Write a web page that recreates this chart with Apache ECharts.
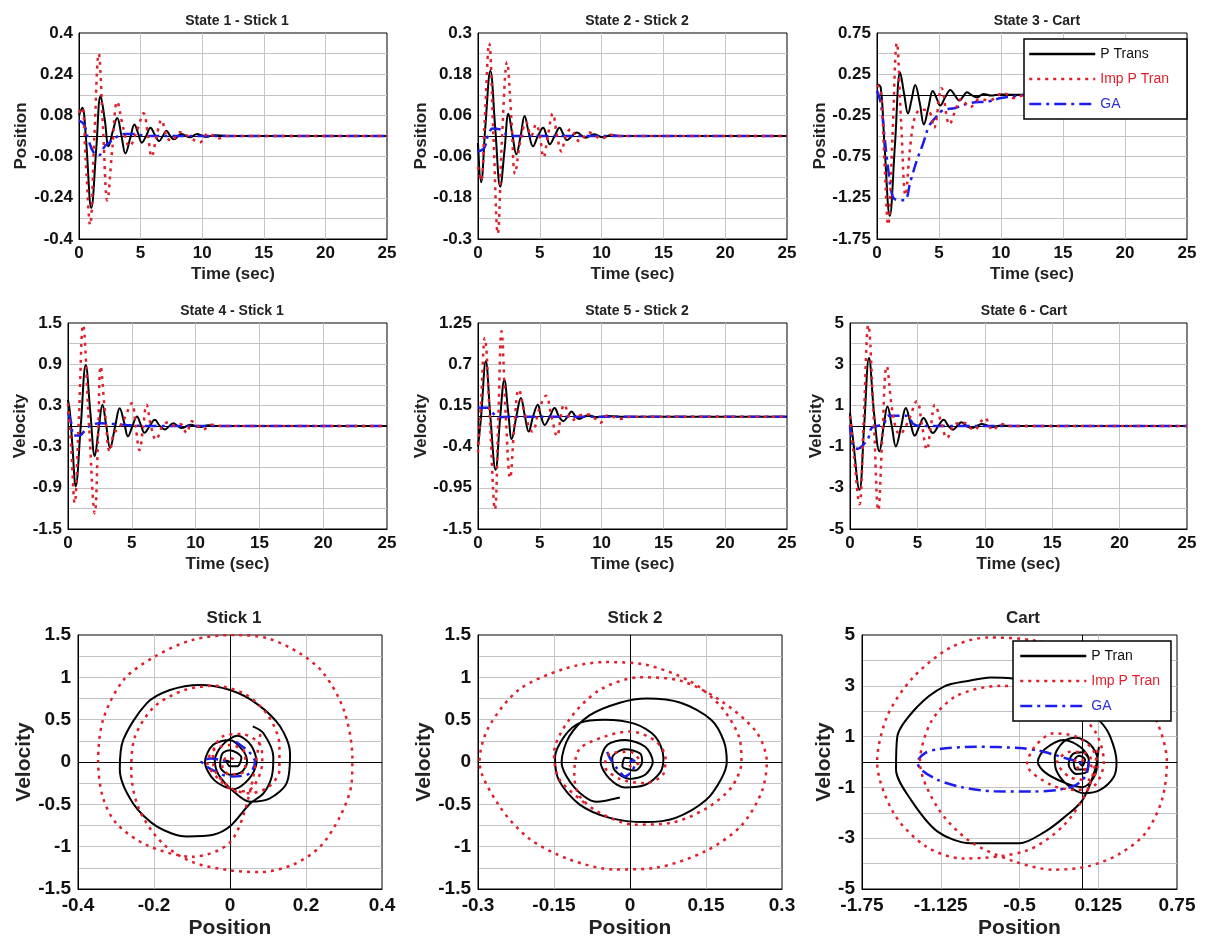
<!DOCTYPE html>
<html>
<head>
<meta charset="utf-8">
<script src="https://cdn.jsdelivr.net/npm/echarts@6.0.0/dist/echarts.min.js"></script>
<style>
  html, body { margin: 0; padding: 0; background: #fff; }
  #chart { width: 1205px; height: 944px; }
</style>
</head>
<body>
<div id="chart"></div>
<script>
// ---- tick values / labels ----
var timeGrid = [5, 10, 15, 20];
var timeLabels = [0, 5, 10, 15, 20, 25];
var y1Grid = [-0.32, -0.24, -0.16, -0.08, 0, 0.08, 0.16, 0.24, 0.32];
var y1Labels = [-0.4, -0.24, -0.08, 0.08, 0.24, 0.4];
var y2Grid = [-0.24, -0.18, -0.12, -0.06, 0, 0.06, 0.12, 0.18, 0.24];
var y2Labels = [-0.3, -0.18, -0.06, 0.06, 0.18, 0.3];
var y3Grid = [-1.5, -1.25, -1, -0.75, -0.5, -0.25, 0, 0.25, 0.5];
var y3Labels = [-1.75, -1.25, -0.75, -0.25, 0.25, 0.75];
var y4Grid = [-1.2, -0.9, -0.6, -0.3, 0, 0.3, 0.6, 0.9, 1.2];
var y4Labels = [-1.5, -0.9, -0.3, 0.3, 0.9, 1.5];
var y5Grid = [-1.225, -0.95, -0.675, -0.4, -0.125, 0.15, 0.425, 0.7, 0.975];
var y5Labels = [-1.5, -0.95, -0.4, 0.15, 0.7, 1.25];
var y6Grid = [-4, -3, -2, -1, 0, 1, 2, 3, 4];
var y6Labels = [-5, -3, -1, 1, 3, 5];
var phYGrid = [-1.25, -1, -0.75, -0.5, -0.25, 0, 0.25, 0.5, 0.75, 1, 1.25];
var phYLabels = [-1.5, -1, -0.5, 0, 0.5, 1, 1.5];
var x7Grid = [-0.2, 0, 0.2];
var x7Labels = [-0.4, -0.2, 0, 0.2, 0.4];
var x8Grid = [-0.15, 0, 0.15];
var x8Labels = [-0.3, -0.15, 0, 0.15, 0.3];
var x9Grid = [-1.125, -0.5, 0.125];
var x9Labels = [-1.75, -1.125, -0.5, 0.125, 0.75];

// ---- state 1 (stick 1 position) : [time, value] ----
var s1Trans = [[0,0.08],[0.27,0.11],[0.55,0.0],[1.0,-0.28],[1.4,-0.05],[1.75,0.155],[2.1,0.06],[2.4,-0.04],[2.75,0.02],[3.1,0.07],[3.45,0.0],[3.77,-0.068],[4.15,-0.01],[4.5,0.045],[4.8,0.01],[5.1,-0.026],[5.45,0.0],[5.8,0.032],[6.15,0.005],[6.5,-0.02],[6.8,0.0],[7.1,0.02],[7.4,0.0],[7.7,-0.013],[8.3,0.008],[9.0,-0.005],[9.6,0.008],[10.3,-0.004],[11,0.003],[12,0],[25,0]];
var s1Imp = [[0,0.09],[0.25,0.11],[0.55,-0.1],[0.9,-0.345],[1.25,0.0],[1.6,0.32],[1.95,0.03],[2.3,-0.25],[2.7,-0.05],[3.1,0.133],[3.6,0.03],[4.1,-0.04],[4.7,0.02],[5.25,0.088],[5.6,0.0],[5.9,-0.08],[6.3,0.0],[6.7,0.062],[7.1,0.0],[7.5,-0.02],[8.2,0.015],[9.0,-0.005],[9.8,-0.025],[10.5,0.01],[11.3,-0.01],[12,0],[25,0]];
var s1GA = [[0,0.06],[0.4,0.045],[0.8,-0.02],[1.2,-0.065],[1.6,-0.075],[2.1,-0.04],[2.6,-0.02],[3.2,0.0],[3.7,0.008],[4.5,0.008],[5.5,0.0],[25,0]];

// ---- state 2 (stick 2 position) ----
var s2Trans = [[0,-0.02],[0.25,-0.135],[0.6,0.03],[1.0,0.19],[1.4,0.02],[1.8,-0.148],[2.15,-0.04],[2.46,0.065],[2.8,0.0],[3.1,-0.053],[3.45,0.0],[3.77,0.058],[4.1,0.01],[4.45,-0.03],[4.85,0.0],[5.27,0.024],[5.55,0.0],[5.8,-0.024],[6.2,0.0],[6.6,0.024],[6.9,0.005],[7.2,-0.012],[7.6,0.0],[8.0,0.01],[8.7,-0.005],[9.4,0.005],[10.1,-0.004],[10.8,0.003],[11.5,0],[25,0]];
var s2Imp = [[0,-0.09],[0.25,-0.13],[0.55,0.05],[0.9,0.27],[1.25,0.0],[1.6,-0.285],[1.95,0.0],[2.35,0.215],[2.7,0.05],[3.0,-0.11],[3.4,-0.02],[3.9,0.04],[4.3,0.0],[4.7,0.034],[5.0,0.0],[5.3,-0.062],[5.65,0.0],[6.05,0.065],[6.4,0.0],[6.75,-0.045],[7.1,0.0],[7.5,0.02],[8.2,-0.015],[9.0,0.01],[10,-0.008],[10.7,0.004],[11.5,0],[25,0]];
var s2GA = [[0,-0.045],[0.5,-0.035],[0.8,0.0],[1.2,0.022],[1.7,0.02],[2.1,0.01],[2.6,0.0],[25,0]];

// ---- state 3 (cart position) ----
var s3Trans = [[0,0.13],[0.3,0.09],[0.6,-0.6],[1.03,-1.47],[1.45,-0.6],[1.87,0.27],[2.2,0.0],[2.5,-0.225],[2.8,-0.05],[3.08,0.12],[3.45,-0.1],[3.78,-0.36],[4.15,-0.15],[4.5,0.045],[4.8,-0.04],[5.1,-0.13],[5.5,-0.03],[5.92,0.058],[6.25,0.0],[6.65,-0.07],[6.95,-0.02],[7.25,0.03],[7.6,0.0],[8.05,-0.03],[8.6,0.01],[9.2,-0.01],[9.9,0.005],[11,0],[25,0]];
var s3Imp = [[0,0.12],[0.3,0.05],[0.6,-0.8],[0.9,-1.58],[1.25,-0.5],[1.6,0.63],[1.95,-0.35],[2.3,-1.22],[2.7,-0.6],[3.1,-0.25],[3.6,-0.18],[4.2,-0.2],[4.6,-0.4],[5.2,0.08],[5.85,-0.36],[6.3,-0.2],[6.8,-0.05],[7.5,-0.15],[8.3,-0.05],[9.0,-0.07],[10.2,0.02],[11.0,-0.04],[12,0],[25,0]];
var s3GA = [[0,0.05],[0.3,-0.1],[0.6,-0.5],[0.9,-0.9],[1.2,-1.2],[1.5,-1.27],[2.2,-1.28],[2.7,-1.05],[3.2,-0.8],[3.7,-0.6],[4.2,-0.38],[4.7,-0.28],[5.3,-0.19],[6.3,-0.16],[7.5,-0.1],[9,-0.08],[10,-0.04],[11,-0.02],[12,0],[25,0]];

// ---- state 4 (stick 1 velocity) ----
var s4Trans = [[0,0.38],[0.15,0.2],[0.35,-0.3],[0.6,-0.88],[1.0,0.0],[1.39,0.89],[1.75,0.2],[2.1,-0.44],[2.4,-0.05],[2.7,0.31],[3.0,0.0],[3.3,-0.32],[3.7,0.0],[4.05,0.26],[4.4,0.05],[4.7,-0.15],[5.05,0.0],[5.4,0.14],[5.7,0.02],[6.0,-0.1],[6.4,0.0],[6.8,0.09],[7.2,0.0],[7.6,-0.05],[7.95,0.0],[8.25,0.04],[8.6,0.0],[8.9,-0.03],[9.6,0.02],[10.3,-0.015],[11,0.01],[11.8,0],[25,0]];
var s4Imp = [[0,0.33],[0.25,-0.3],[0.52,-1.12],[0.85,0.1],[1.18,1.47],[1.65,0.0],[2.1,-1.27],[2.35,-0.2],[2.56,0.87],[2.9,0.2],[3.27,-0.37],[3.6,-0.1],[3.9,-0.05],[4.4,0.1],[5.0,0.33],[5.3,0.0],[5.6,-0.35],[5.9,0.0],[6.15,0.31],[6.5,0.0],[6.9,-0.2],[7.4,0.0],[7.8,0.05],[8.4,0.0],[8.8,0.03],[9.3,-0.1],[9.7,0.07],[10.2,0.0],[10.6,-0.05],[11.3,0.02],[12,0],[25,0]];
var s4GA = [[0,0.2],[0.25,0.05],[0.45,-0.14],[0.9,-0.14],[1.3,-0.07],[1.7,0.0],[2.5,0.04],[3.5,0.03],[5,0.01],[6,0],[25,0]];

// ---- state 5 (stick 2 velocity) ----
var s5Trans = [[0,-0.4],[0.25,0.0],[0.63,0.74],[1.0,0.0],[1.42,-0.71],[1.8,0.0],[2.13,0.49],[2.45,0.05],[2.73,-0.3],[3.1,0.0],[3.47,0.25],[3.8,0.0],[4.1,-0.2],[4.45,0.0],[4.84,0.16],[5.1,0.0],[5.4,-0.11],[5.8,0.0],[6.2,0.115],[6.55,0.0],[6.9,-0.06],[7.25,0.0],[7.57,0.07],[7.9,0.0],[8.2,-0.03],[8.9,0.02],[9.6,-0.01],[10.5,0.01],[11.5,0],[25,0]];
var s5Imp = [[0,-0.48],[0.25,0.2],[0.55,1.05],[0.95,0.0],[1.37,-1.24],[1.65,0.0],[1.9,1.14],[2.25,0.0],[2.6,-0.82],[2.95,-0.1],[3.3,0.36],[3.85,0.0],[4.4,-0.2],[4.95,0.1],[5.5,0.28],[5.95,0.0],[6.4,-0.26],[6.7,0.0],[6.97,0.16],[7.6,-0.05],[8.3,0.02],[9.0,0.03],[9.9,-0.08],[10.5,0.02],[11.5,-0.03],[12.5,0],[25,0]];
var s5GA = [[0,0.12],[0.8,0.12],[1.3,0.03],[1.6,-0.01],[2.5,0],[25,0]];

// ---- state 6 (cart velocity) ----
var s6Trans = [[0,0.63],[0.2,-0.5],[0.7,-3.1],[1.05,0.0],[1.41,3.3],[1.8,0.5],[2.18,-1.23],[2.5,0.0],[2.78,0.95],[3.1,0.0],[3.4,-0.99],[3.8,0.0],[4.14,0.87],[4.5,0.1],[4.8,-0.47],[5.15,0.0],[5.46,0.39],[5.8,0.0],[6.15,-0.34],[6.55,0.0],[6.95,0.3],[7.3,0.0],[7.64,-0.18],[7.95,0.0],[8.26,0.18],[8.65,0.0],[9.06,-0.1],[9.4,0.0],[9.8,0.1],[10.5,-0.05],[11.2,0.03],[12,0],[25,0]];
var s6Imp = [[0,0.47],[0.3,-1.5],[0.7,-3.8],[1.0,0.0],[1.36,4.9],[1.75,0.5],[2.1,-4.1],[2.4,-0.5],[2.73,2.9],[3.2,0.5],[3.7,-0.4],[4.3,0.2],[4.96,1.2],[5.35,0.0],[5.7,-1.15],[6.0,0.0],[6.3,1.03],[6.75,0.2],[7.2,-0.58],[7.8,0.1],[8.5,0.15],[9.2,-0.2],[10.0,0.39],[10.6,-0.2],[11.2,0.1],[12,0],[25,0]];
var s6GA = [[0,0.05],[0.25,-1.0],[0.6,-1.1],[1.0,-0.9],[1.35,-0.6],[1.6,-0.1],[2.0,0.0],[2.5,0.1],[2.85,0.5],[4.2,0.5],[4.7,0.1],[5.2,0.0],[25,0]];

// ---- phase portraits : [position, velocity] ----
var stick1Tran = [[0.06,0.42],[0.088,0.34],[0.114,0.06],[0.11,-0.17],[0.088,-0.37],[0.053,-0.49],[0.0,-0.76],[-0.044,-0.86],[-0.114,-0.88],[-0.193,-0.76],[-0.255,-0.49],[-0.29,-0.09],[-0.281,0.26],[-0.22,0.69],[-0.158,0.85],[-0.079,0.91],[0.0,0.85],[0.07,0.69],[0.132,0.42],[0.158,0.1],[0.149,-0.25],[0.105,-0.43],[0.053,-0.47],[0.01,-0.35],[-0.03,-0.15],[-0.04,0.02],[-0.02,0.2],[0.02,0.31],[0.055,0.2],[0.07,0.0],[0.05,-0.2],[0.01,-0.32],[-0.04,-0.22],[-0.066,0.0],[-0.045,0.2],[0.0,0.26],[0.035,0.13],[0.045,0.0],[0.03,-0.12],[0.0,-0.15],[-0.026,-0.05],[-0.02,0.1],[0.0,0.14],[0.03,0.05],[0.02,-0.05],[0.0,-0.05],[-0.01,0.02],[0,0]];
var stick1Imp = [[0.08,0.33],[0.05,-0.4],[0.0,-0.95],[-0.1,-1.12],[-0.22,-0.98],[-0.3,-0.72],[-0.335,-0.41],[-0.347,0.0],[-0.334,0.5],[-0.28,0.97],[-0.2,1.24],[-0.1,1.44],[0.01,1.5],[0.1,1.46],[0.185,1.28],[0.246,1.05],[0.3,0.61],[0.322,0.05],[0.32,-0.25],[0.29,-0.64],[0.237,-1.0],[0.167,-1.21],[0.08,-1.3],[0.0,-1.28],[-0.1,-1.18],[-0.18,-0.95],[-0.24,-0.55],[-0.26,-0.1],[-0.25,0.3],[-0.2,0.65],[-0.12,0.85],[-0.04,0.9],[0.04,0.8],[0.1,0.55],[0.13,0.2],[0.13,-0.1],[0.1,-0.3],[0.05,-0.37],[0.0,-0.3],[-0.04,-0.1],[-0.045,0.1],[-0.02,0.3],[0.03,0.33],[0.08,0.2],[0.085,0.0],[0.06,-0.3],[0.02,-0.35],[-0.03,-0.2],[-0.06,0.0],[-0.04,0.15],[0.0,0.2],[0.04,0.1],[0.04,-0.1],[0.0,-0.15],[-0.02,-0.05],[-0.01,0.05],[0.01,0.03],[0,0]];
var stick1GA = [[0.015,0.24],[0.05,0.12],[0.066,0.0],[0.05,-0.14],[0.0,-0.17],[-0.044,-0.1],[-0.075,0.01],[-0.05,0.04],[-0.02,0.02],[0,0]];

var stick2Tran = [[-0.02,-0.42],[-0.066,-0.47],[-0.11,-0.3],[-0.135,0.0],[-0.12,0.3],[-0.08,0.55],[-0.02,0.7],[0.033,0.75],[0.1,0.7],[0.16,0.5],[0.185,0.25],[0.191,0.0],[0.18,-0.2],[0.15,-0.45],[0.09,-0.66],[0.03,-0.71],[-0.04,-0.66],[-0.1,-0.5],[-0.14,-0.22],[-0.148,0.05],[-0.13,0.3],[-0.1,0.46],[-0.05,0.5],[0.01,0.45],[0.05,0.3],[0.066,0.05],[0.06,-0.12],[0.03,-0.27],[-0.01,-0.3],[-0.04,-0.2],[-0.058,0.0],[-0.045,0.2],[-0.01,0.26],[0.03,0.18],[0.045,0.0],[0.03,-0.15],[0.0,-0.2],[-0.03,-0.1],[-0.035,0.05],[-0.01,0.15],[0.02,0.1],[0.024,0.0],[0.01,-0.1],[-0.015,-0.05],[-0.01,0.05],[0.005,0.03],[0,0]];
var stick2Imp = [[-0.09,-0.48],[-0.14,-0.2],[-0.15,0.1],[-0.12,0.5],[-0.06,0.85],[0.02,1.0],[0.1,0.96],[0.18,0.72],[0.25,0.35],[0.27,0.0],[0.26,-0.35],[0.22,-0.75],[0.15,-1.05],[0.05,-1.25],[-0.03,-1.27],[-0.12,-1.15],[-0.2,-0.9],[-0.26,-0.5],[-0.297,0.0],[-0.28,0.4],[-0.22,0.85],[-0.13,1.1],[-0.05,1.18],[0.03,1.15],[0.12,0.95],[0.18,0.65],[0.215,0.3],[0.22,0.0],[0.2,-0.3],[0.15,-0.55],[0.08,-0.72],[0.01,-0.74],[-0.06,-0.6],[-0.1,-0.4],[-0.11,-0.15],[-0.1,0.15],[-0.05,0.3],[0.0,0.36],[0.05,0.25],[0.07,0.05],[0.065,-0.15],[0.03,-0.25],[-0.02,-0.2],[-0.05,-0.05],[-0.04,0.1],[0.0,0.12],[0.02,0.0],[0.0,-0.05],[0,0]];
var stick2GA = [[-0.045,0.12],[-0.04,0.05],[-0.025,-0.08],[-0.01,-0.17],[0.005,-0.1],[0.01,0.0],[0.005,0.02],[0,0]];

var cartTran = [[0.13,0.6],[0.1,-0.3],[0.0,-1.5],[-0.15,-2.2],[-0.3,-2.75],[-0.5,-3.2],[-0.89,-3.2],[-1.15,-2.74],[-1.36,-1.5],[-1.48,-0.3],[-1.47,1.0],[-1.31,2.18],[-1.1,2.97],[-0.9,3.2],[-0.73,3.33],[-0.57,3.3],[-0.3,3.0],[-0.05,2.4],[0.14,1.6],[0.22,1.0],[0.27,0.0],[0.25,-0.57],[0.14,-1.1],[0.01,-1.23],[-0.12,-0.9],[-0.21,-0.3],[-0.22,0.2],[-0.15,0.8],[-0.05,0.95],[0.06,0.7],[0.12,0.1],[0.09,-0.6],[0.0,-0.99],[-0.15,-0.8],[-0.3,-0.4],[-0.355,0.0],[-0.3,0.5],[-0.15,0.87],[-0.02,0.6],[0.05,0.1],[0.03,-0.4],[-0.05,-0.47],[-0.11,-0.1],[-0.08,0.3],[0.0,0.38],[0.05,0.1],[0.03,-0.3],[-0.05,-0.3],[-0.07,0.0],[-0.03,0.25],[0.02,0.1],[0.0,-0.15],[-0.03,0.0],[0,0]];
var cartImp = [[0.12,0.47],[0.05,-1.0],[-0.15,-2.5],[-0.45,-3.5],[-0.95,-3.8],[-1.25,-3.3],[-1.5,-2.0],[-1.63,0.0],[-1.55,1.8],[-1.35,3.3],[-1.05,4.5],[-0.75,4.9],[-0.4,4.8],[0.0,4.3],[0.3,3.3],[0.55,2.0],[0.67,0.0],[0.63,-1.5],[0.5,-2.8],[0.3,-3.6],[0.05,-4.1],[-0.23,-4.24],[-0.55,-3.9],[-0.9,-3.1],[-1.15,-1.8],[-1.29,0.0],[-1.2,1.6],[-1.0,2.6],[-0.65,3.0],[-0.35,2.8],[-0.1,2.2],[0.1,1.2],[0.17,0.0],[0.1,-0.9],[-0.05,-1.1],[-0.25,-0.9],[-0.44,-0.1],[-0.38,0.6],[-0.23,1.13],[-0.05,1.0],[0.08,0.5],[0.12,-0.2],[0.05,-0.7],[-0.1,-0.6],[-0.2,0.0],[-0.1,0.4],[0.05,0.3],[0.07,-0.2],[-0.02,-0.3],[-0.06,0.05],[0.0,0.1],[0,0]];
var cartGA = [[0.05,0.05],[0.03,-0.5],[-0.05,-0.9],[-0.2,-1.1],[-0.4,-1.16],[-0.7,-1.15],[-0.95,-1.0],[-1.15,-0.7],[-1.28,-0.3],[-1.31,0.0],[-1.25,0.35],[-1.15,0.5],[-0.85,0.6],[-0.5,0.55],[-0.35,0.45],[-0.2,0.25],[-0.1,0.1],[-0.05,0.05],[-0.03,-0.05],[0,0]];

var FONT = 'Arial, "Liberation Sans", Helvetica, sans-serif';
var RED = '#e01f2b';
var BLUE = '#1c1cee';

var rowStyle = [
  { title: 14, tick: 17, name: 17, xGap: 27, margin: 6 },
  { title: 14, tick: 17, name: 17, xGap: 27, margin: 6 },
  { title: 17, tick: 19, name: 21, xGap: 29, margin: 7 }
];

var panels = [
  { title: 'State 1 - Stick 1', row: 0, box: [79, 33, 308, 206], tx: 232, ty: 9,
    xr: [0, 25], xg: timeGrid, xl: timeLabels, xn: 'Time (sec)',
    yr: [-0.4, 0.4], yg: y1Grid, yl: y1Labels, yn: 'Position', yGap: 49,
    data: [s1Trans, s1Imp, s1GA], black: 'P Trans', phase: false },
  { title: 'State 2 - Stick 2', row: 0, box: [478, 33, 309, 206], tx: 632, ty: 9,
    xr: [0, 25], xg: timeGrid, xl: timeLabels, xn: 'Time (sec)',
    yr: [-0.3, 0.3], yg: y2Grid, yl: y2Labels, yn: 'Position', yGap: 48,
    data: [s2Trans, s2Imp, s2GA], black: 'P Trans', phase: false },
  { title: 'State 3 - Cart', row: 0, box: [877, 33, 310, 206], tx: 1032, ty: 9,
    xr: [0, 25], xg: timeGrid, xl: timeLabels, xn: 'Time (sec)',
    yr: [-1.75, 0.75], yg: y3Grid, yl: y3Labels, yn: 'Position', yGap: 47,
    data: [s3Trans, s3Imp, s3GA], black: 'P Trans', phase: false },
  { title: 'State 4 - Stick 1', row: 1, box: [68, 323, 319, 206], tx: 227, ty: 299,
    xr: [0, 25], xg: timeGrid, xl: timeLabels, xn: 'Time (sec)',
    yr: [-1.5, 1.5], yg: y4Grid, yl: y4Labels, yn: 'Velocity', yGap: 38,
    data: [s4Trans, s4Imp, s4GA], black: 'P Trans', phase: false },
  { title: 'State 5 - Stick 2', row: 1, box: [478, 323, 309, 206], tx: 632, ty: 299,
    xr: [0, 25], xg: timeGrid, xl: timeLabels, xn: 'Time (sec)',
    yr: [-1.5, 1.25], yg: y5Grid, yl: y5Labels, yn: 'Velocity', yGap: 48,
    data: [s5Trans, s5Imp, s5GA], black: 'P Trans', phase: false },
  { title: 'State 6 - Cart', row: 1, box: [850, 323, 337, 206], tx: 1019, ty: 299,
    xr: [0, 25], xg: timeGrid, xl: timeLabels, xn: 'Time (sec)',
    yr: [-5, 5], yg: y6Grid, yl: y6Labels, yn: 'Velocity', yGap: 20,
    data: [s6Trans, s6Imp, s6GA], black: 'P Trans', phase: false },
  { title: 'Stick 1', row: 2, box: [78, 635, 304, 254], tx: 229, ty: 605,
    xr: [-0.4, 0.4], xg: x7Grid, xl: x7Labels, xn: 'Position',
    yr: [-1.5, 1.5], yg: phYGrid, yl: phYLabels, yn: 'Velocity', yGap: 42,
    data: [stick1Tran, stick1Imp, stick1GA], black: 'P Tran', phase: true },
  { title: 'Stick 2', row: 2, box: [478, 635, 304, 254], tx: 630, ty: 605,
    xr: [-0.3, 0.3], xg: x8Grid, xl: x8Labels, xn: 'Position',
    yr: [-1.5, 1.5], yg: phYGrid, yl: phYLabels, yn: 'Velocity', yGap: 42,
    data: [stick2Tran, stick2Imp, stick2GA], black: 'P Tran', phase: true },
  { title: 'Cart', row: 2, box: [862, 635, 315, 254], tx: 1018, ty: 605,
    xr: [-1.75, 0.75], xg: x9Grid, xl: x9Labels, xn: 'Position',
    yr: [-5, 5], yg: y6Grid, yl: y6Labels, yn: 'Velocity', yGap: 26,
    data: [cartTran, cartImp, cartGA], black: 'P Tran', phase: true }
];

var fmt = function (v) { return String(v); };

// legends sit above the curves, like the boxed legends of the original
var legendBase = {
  orient: 'vertical', itemGap: 11, itemWidth: 66, itemHeight: 14, selectedMode: false,
  z: 20, backgroundColor: '#fff', borderColor: '#000', borderWidth: 1.5,
  itemStyle: { opacity: 0 },
  lineStyle: { width: 2.5 },
  textStyle: { fontFamily: FONT, fontSize: 14 }
};

var option = {
  backgroundColor: '#ffffff',
  animation: false,
  title: [], grid: [], xAxis: [], yAxis: [], series: [],
  legend: [
    Object.assign({}, legendBase, {
      left: 1024, top: 39, padding: [8, 18, 8, 4],
      data: [
        { name: 'P Trans', textStyle: { color: '#111' } },
        { name: 'Imp P Tran', textStyle: { color: RED } },
        { name: 'GA', textStyle: { color: '#3030d8' } }
      ] }),
    Object.assign({}, legendBase, {
      left: 1013, top: 641, padding: [8, 11, 8, 6],
      data: [
        { name: 'P Tran', textStyle: { color: '#111' } },
        { name: 'Imp P Tran', textStyle: { color: RED } },
        { name: 'GA', textStyle: { color: '#3030d8' } }
      ] })
  ]
};

panels.forEach(function (p, i) {
  var rs = rowStyle[p.row];
  option.title.push({
    text: p.title, left: p.tx, top: p.ty, textAlign: 'center',
    textStyle: { fontFamily: FONT, fontSize: rs.title, fontWeight: 'bold', color: '#222' }
  });
  option.grid.push({
    left: p.box[0], top: p.box[1], width: p.box[2], height: p.box[3],
    containLabel: false, outerBoundsMode: 'none',
    show: true, backgroundColor: '#fff', borderColor: '#000', borderWidth: 1
  });
  var axisCommon = function (r, g, l, name, gap) {
    return {
      type: 'value', gridIndex: i, min: r[0], max: r[1],
      name: name, nameLocation: 'middle', nameGap: gap,
      nameTextStyle: { fontFamily: FONT, fontSize: rs.name, fontWeight: 'bold', color: '#222' },
      axisLine: { show: true, onZero: false, lineStyle: { color: '#000', width: 1 } },
      axisTick: { show: false, customValues: g },
      axisLabel: { customValues: l, formatter: fmt, margin: rs.margin,
        fontFamily: FONT, fontSize: rs.tick, fontWeight: 'bold', color: '#111' },
      splitLine: { show: true, lineStyle: { color: '#c4c4c4', width: 1 } }
    };
  };
  option.xAxis.push(axisCommon(p.xr, p.xg, p.xl, p.xn, rs.xGap));
  option.yAxis.push(axisCommon(p.yr, p.yg, p.yl, p.yn, p.yGap));

  var zeroData = p.phase ? [{ xAxis: 0 }, { yAxis: 0 }] : [{ yAxis: 0 }];
  var smooth = p.phase ? 0.3 : 0.4;
  option.series.push({
    name: p.black, type: 'line', xAxisIndex: i, yAxisIndex: i, data: p.data[0],
    symbol: 'none', smooth: smooth, z: 4,
    lineStyle: { color: '#000', width: 2 }, itemStyle: { color: '#000' },
    markLine: { silent: true, symbol: ['none', 'none'], label: { show: false },
      lineStyle: { color: '#000', width: 1, type: 'solid' }, data: zeroData }
  });
  option.series.push({
    name: 'GA', type: 'line', xAxisIndex: i, yAxisIndex: i, data: p.data[2],
    symbol: 'none', smooth: smooth, z: 5,
    lineStyle: { color: BLUE, width: 2.5, type: [12, 5, 3, 5] }, itemStyle: { color: BLUE }
  });
  option.series.push({
    name: 'Imp P Tran', type: 'line', xAxisIndex: i, yAxisIndex: i, data: p.data[1],
    symbol: 'none', smooth: smooth, z: 6,
    lineStyle: { color: RED, width: 2.5, type: [3, 5] }, itemStyle: { color: RED }
  });
});

var chart = echarts.init(document.getElementById('chart'));
chart.setOption(option);
</script>
</body>
</html>
